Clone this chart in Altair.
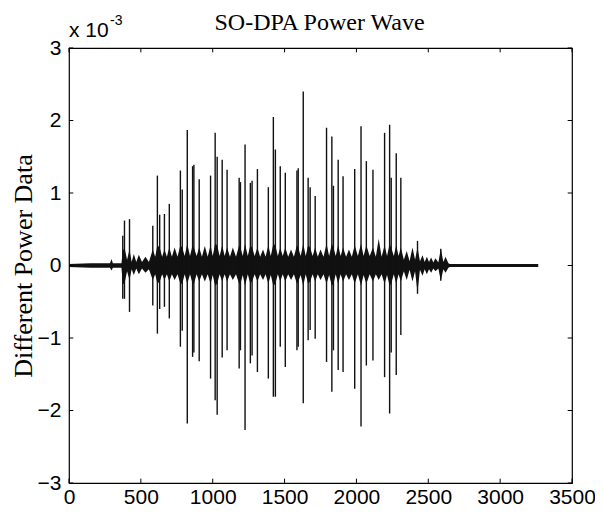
import altair as alt
import pandas as pd

# ---- data (values in units of 1e-3) ----
# envelope of the dense oscillation band
env_x = [0, 150, 285, 296, 305, 365,
         374, 386, 404, 421, 436, 451, 468, 486, 508, 532, 556,
         583, 600, 615, 631, 648, 664, 681, 698, 716, 735, 755,
         775, 788, 805, 823, 842, 860, 869, 888, 906, 925, 945, 965,
         985, 1000, 1017, 1031, 1048, 1066, 1083, 1100, 1120, 1140, 1162,
         1184, 1193, 1209, 1225, 1244, 1262, 1274, 1292, 1311, 1330, 1350, 1368,
         1387, 1404, 1422, 1436, 1453, 1470, 1487, 1505, 1525, 1545, 1565,
         1586, 1595, 1612, 1630, 1647, 1664, 1678, 1695, 1713, 1731, 1750, 1771,
         1792, 1810, 1829, 1840, 1856, 1873, 1890, 1907, 1928, 1948, 1968,
         1988, 2010, 2032, 2050, 2069, 2092, 2115, 2135, 2155, 2175,
         2196, 2213, 2231, 2242, 2260, 2277, 2293, 2309, 2330, 2350, 2370,
         2390, 2408, 2425, 2442, 2460, 2475, 2490, 2505, 2520, 2535, 2550, 2570,
         2587, 2605, 2620, 2640, 2650, 3265]
env_hi = [0.02, 0.03, 0.03, 0.09, 0.03, 0.03,
          0.20, 0.25, 0.08, 0.22, 0.05, 0.16, 0.05, 0.15, 0.05, 0.12, 0.05,
          0.22, 0.12, 0.28, 0.25, 0.12, 0.22, 0.12, 0.25, 0.12, 0.25, 0.12,
          0.28, 0.25, 0.13, 0.30, 0.13, 0.28, 0.25, 0.13, 0.25, 0.12, 0.27, 0.12,
          0.28, 0.13, 0.30, 0.28, 0.13, 0.28, 0.13, 0.25, 0.12, 0.25, 0.12,
          0.28, 0.25, 0.13, 0.30, 0.13, 0.28, 0.25, 0.13, 0.25, 0.12, 0.22, 0.12,
          0.28, 0.13, 0.30, 0.28, 0.13, 0.25, 0.13, 0.25, 0.12, 0.22, 0.12,
          0.28, 0.25, 0.13, 0.30, 0.13, 0.28, 0.25, 0.13, 0.25, 0.12, 0.22, 0.12,
          0.30, 0.13, 0.30, 0.25, 0.13, 0.28, 0.13, 0.25, 0.12, 0.22, 0.12,
          0.28, 0.13, 0.30, 0.13, 0.28, 0.13, 0.25, 0.12, 0.37, 0.12,
          0.28, 0.13, 0.30, 0.25, 0.13, 0.28, 0.13, 0.25, 0.08, 0.20, 0.06,
          0.25, 0.08, 0.25, 0.06, 0.14, 0.05, 0.12, 0.05, 0.11, 0.04, 0.10, 0.04,
          0.23, 0.05, 0.12, 0.03, 0.02, 0.02]
env_lo = [-0.02, -0.03, -0.03, -0.07, -0.03, -0.03,
          -0.25, -0.25, -0.08, -0.20, -0.05, -0.13, -0.04, -0.12, -0.04, -0.10, -0.05,
          -0.20, -0.12, -0.25, -0.22, -0.12, -0.20, -0.12, -0.22, -0.12, -0.20, -0.12,
          -0.25, -0.25, -0.12, -0.25, -0.12, -0.25, -0.25, -0.12, -0.22, -0.12, -0.22, -0.12,
          -0.25, -0.13, -0.28, -0.25, -0.12, -0.22, -0.12, -0.22, -0.12, -0.20, -0.12,
          -0.25, -0.25, -0.13, -0.28, -0.12, -0.25, -0.22, -0.12, -0.22, -0.12, -0.20, -0.12,
          -0.25, -0.13, -0.28, -0.25, -0.12, -0.22, -0.12, -0.22, -0.12, -0.20, -0.12,
          -0.25, -0.22, -0.13, -0.28, -0.12, -0.25, -0.22, -0.12, -0.22, -0.12, -0.20, -0.12,
          -0.25, -0.13, -0.28, -0.25, -0.12, -0.25, -0.12, -0.22, -0.12, -0.20, -0.12,
          -0.25, -0.12, -0.28, -0.13, -0.25, -0.12, -0.22, -0.12, -0.20, -0.12,
          -0.25, -0.13, -0.28, -0.25, -0.12, -0.25, -0.12, -0.22, -0.08, -0.20, -0.06,
          -0.22, -0.08, -0.37, -0.06, -0.14, -0.05, -0.12, -0.05, -0.10, -0.04, -0.08, -0.04,
          -0.21, -0.05, -0.10, -0.03, -0.02, -0.02]

# major spikes: sample index, positive peak, negative peak
spike_x = [374, 386, 421, 583, 615, 631, 664, 698, 775, 788, 823, 860, 869, 906,
           985, 1017, 1031, 1066, 1100, 1184, 1193, 1225, 1262, 1274, 1311,
           1387, 1422, 1436, 1470, 1505, 1586, 1595, 1630, 1664, 1678, 1713,
           1792, 1829, 1840, 1873, 1907, 1988, 2032, 2069, 2115, 2196, 2231,
           2242, 2277, 2309, 2425, 2587]
spike_up = [0.41, 0.62, 0.64, 0.55, 1.24, 0.70, 0.71, 0.85, 1.31, 1.05, 1.87, 1.37, 1.39, 1.19,
            1.24, 1.83, 1.50, 1.46, 1.32, 1.21, 1.15, 1.67, 1.14, 1.17, 1.33,
            1.08, 2.05, 1.60, 1.37, 1.28, 1.31, 1.34, 2.40, 1.21, 1.08, 0.96,
            1.90, 1.78, 1.10, 1.46, 1.23, 1.33, 1.92, 1.44, 1.32, 1.83, 1.94,
            1.21, 1.55, 1.21, 0.34, 0.23]
spike_dn = [-0.46, -0.46, -0.64, -0.55, -0.94, -0.60, -0.57, -0.73, -1.12, -0.90, -2.18, -1.26, -1.20, -1.32,
            -1.56, -1.86, -2.06, -1.27, -1.17, -1.42, -1.17, -2.27, -1.35, -1.24, -1.47,
            -1.56, -1.81, -1.81, -1.12, -1.40, -1.17, -1.12, -1.90, -1.03, -0.89, -1.01,
            -1.33, -1.74, -1.17, -1.44, -1.47, -1.70, -2.22, -1.38, -1.31, -1.54, -2.04,
            -1.20, -1.51, -0.96, -0.39, -0.21]

x_ticks = [0, 500, 1000, 1500, 2000, 2500, 3000, 3500]
y_ticks = [-3, -2, -1, 0, 1, 2, 3]

title_text = "SO-DPA Power Wave"
y_title = "Different Power Data"

# ---- tables ----
env_df = pd.DataFrame({"x": env_x, "hi": env_hi, "lo": env_lo})
spk_df = pd.DataFrame({"x": spike_x, "hi": spike_up, "lo": spike_dn})
xt_df = pd.DataFrame({"x": x_ticks})
yt_df = pd.DataFrame({"y": y_ticks})

W, H = 503, 435

xs = alt.Scale(domain=[0, 3500], nice=False, zero=False)
ys = alt.Scale(domain=[-3, 3], nice=False, zero=False)

x_axis = alt.Axis(values=x_ticks, format="d", labelPadding=3, title=None, labelFlush=False,
                  grid=False, ticks=False, domain=False,
                  labelFont="Liberation Sans", labelFontSize=21, labelColor="black")
y_axis = alt.Axis(values=y_ticks, format="d", labelPadding=8, grid=False, ticks=False, domain=False,
                  labelFlush=False,
                  labelFont="Liberation Sans", labelFontSize=21, labelColor="black",
                  title=y_title, titleFont="Liberation Serif",
                  titleFontSize=26, titleFontWeight="normal", titleColor="black",
                  titleX=-46, titleY=H / 2, titleBaseline="middle", titleAngle=270)


def X(field):
    return alt.X(field, type="quantitative", scale=xs, axis=x_axis)


def Y(field):
    return alt.Y(field, type="quantitative", scale=ys, axis=y_axis)


band = alt.Chart(env_df).mark_area(color="#111111", opacity=1, interpolate="linear").encode(
    x=X("x"), y=Y("hi"), y2="lo")

spikes = alt.Chart(spk_df).mark_rule(color="#111111", strokeWidth=1.4).encode(
    x=X("x"), y=Y("hi"), y2="lo")

# MATLAB-style inward tick marks on all four sides
xt_bottom = alt.Chart(xt_df).mark_rule(color="black", strokeWidth=1).encode(
    x=X("x"), y=Y("b0:Q"), y2="b1:Q").transform_calculate(b0="-3", b1="-2.94")
xt_top = alt.Chart(xt_df).mark_rule(color="black", strokeWidth=1).encode(
    x=X("x"), y=Y("t0:Q"), y2="t1:Q").transform_calculate(t0="3", t1="2.94")
yt_left = alt.Chart(yt_df).mark_rule(color="black", strokeWidth=1).encode(
    y=Y("y"), x=X("l0:Q"), x2="l1:Q").transform_calculate(l0="0", l1="30")
yt_right = alt.Chart(yt_df).mark_rule(color="black", strokeWidth=1).encode(
    y=Y("y"), x=X("r0:Q"), x2="r1:Q").transform_calculate(r0="3500", r1="3470")

exp_base = alt.Chart(pd.DataFrame({"t": ["x 10"]})).mark_text(
    font="Liberation Sans", fontSize=21, align="left", baseline="alphabetic", color="black"
).encode(text="t:N", x=alt.value(0), y=alt.value(-11))
exp_sup = alt.Chart(pd.DataFrame({"t": ["-3"]})).mark_text(
    font="Liberation Sans", fontSize=14, align="left", baseline="alphabetic", color="black"
).encode(text="t:N", x=alt.value(41), y=alt.value(-23))
title_mark = alt.Chart(pd.DataFrame({"t": [title_text]})).mark_text(
    font="Liberation Serif", fontSize=24, align="center", baseline="alphabetic", color="black"
).encode(text="t:N", x=alt.value(W / 2 - 1), y=alt.value(-18))

chart = alt.layer(band, spikes, xt_bottom, xt_top, yt_left, yt_right,
                  exp_base, exp_sup, title_mark).properties(
    width=W, height=H,
    autosize="none",
    background="white",
    padding={"left": 61, "top": 40, "right": 23, "bottom": 30},
).configure_view(stroke="black", strokeWidth=1.2)

chart.save("out.html", embed_options={"renderer": "svg", "actions": False})
